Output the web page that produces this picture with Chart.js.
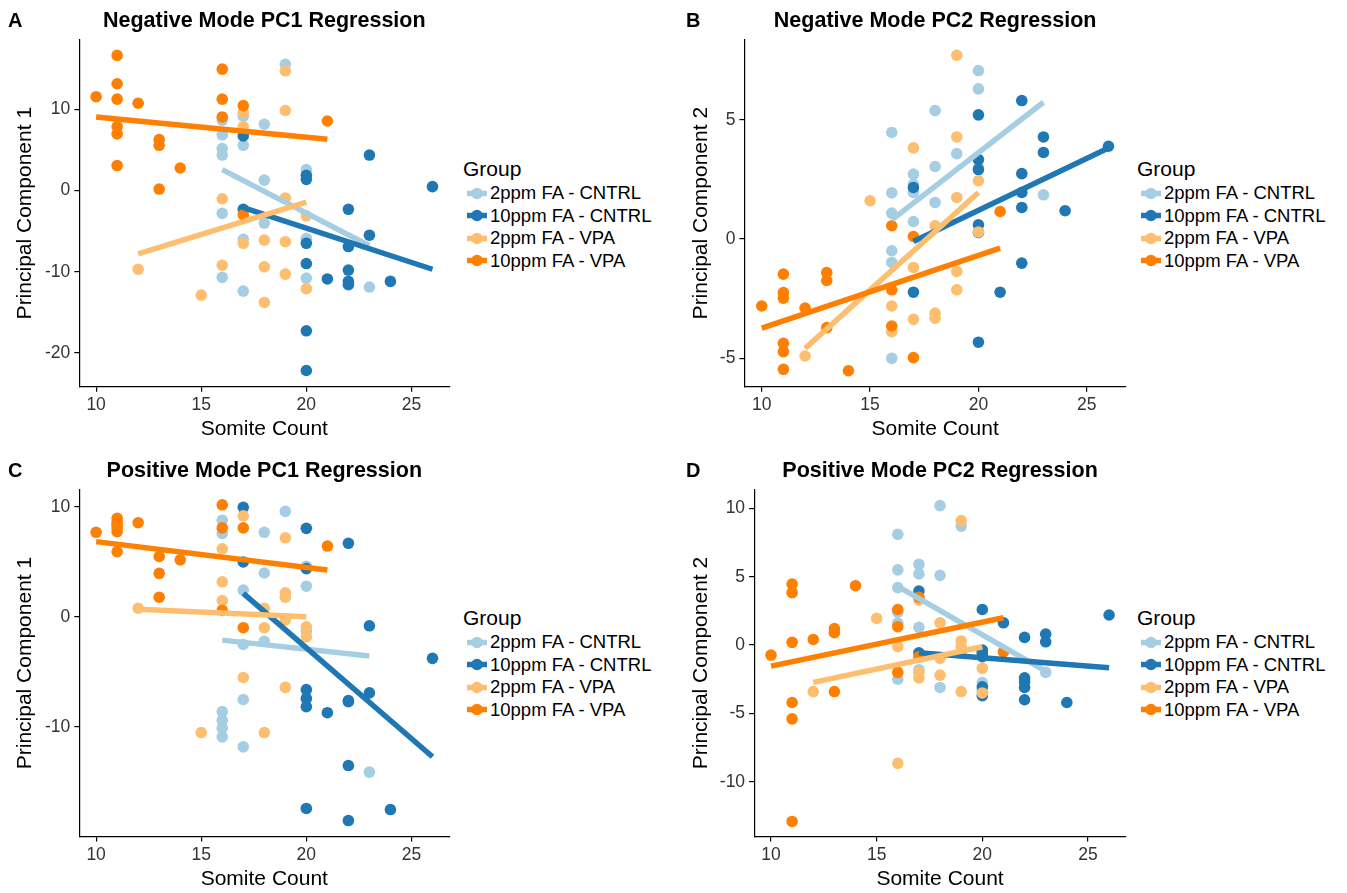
<!DOCTYPE html>
<html>
<head>
<meta charset="utf-8">
<script src="https://cdn.jsdelivr.net/npm/chart.js@4.4.1/dist/chart.umd.min.js"></script>
<style>
  html, body { margin: 0; padding: 0; background: #ffffff; }
  body { width: 1347px; height: 893px; position: relative; overflow: hidden; font-family: "Liberation Sans", Arial, sans-serif; }
  canvas { position: absolute; }
  .tag { position: absolute; font-weight: bold; font-size: 20px; line-height: 20px; color: #000; }
  .legend { position: absolute; color: #000; }
  .legend .lt { font-size: 21px; height: 27px; line-height: 27px; white-space: nowrap; }
  .legend .row { height: 22.5px; display: flex; align-items: center; white-space: nowrap; font-size: 18.5px; }
  .legend .row svg { margin-left: 3px; margin-right: 2px; flex: none; }
</style>
</head>
<body>
<script>
// ---------------- data ----------------
const groups = ['2ppm FA - CNTRL', '10ppm FA - CNTRL', '2ppm FA - VPA', '10ppm FA - VPA'];
const xTicks = [10, 15, 20, 25];

// Panel A: Negative Mode PC1
const negPC1Ticks = [-20, -10, 0, 10];
const negPC1_2cntrl = [[16,8.7],[16,6.9],[16,5.2],[16,4.4],[16,-2.8],[16,-10.7],[17,9.2],[17,5.6],[17,-6.0],[17,-12.4],[18,8.2],[18,1.3],[18,-4.0],[19,15.6],[20,2.6],[20,-5.9],[20,-10.8],[23,-11.9]];
const negPC1_10cntrl = [[17,6.75],[17,-2.3],[20,1.9],[20,1.4],[20,-6.5],[20,-9.0],[20,-17.3],[20,-22.2],[21,-10.9],[22,-2.3],[22,-6.9],[22,-9.8],[22,-11.2],[22,-11.6],[23,4.4],[23,-5.5],[24,-11.2],[26,0.5]];
const negPC1_2vpa = [[12,-9.7],[15,-12.9],[16,-1.0],[16,-9.2],[17,9.6],[17,7.9],[17,-6.5],[18,-6.1],[18,-9.4],[18,-13.8],[19,14.8],[19,9.9],[19,-0.9],[19,-6.3],[19,-10.3],[20,-3.1],[20,-12.1]];
const negPC1_10vpa = [[10,11.6],[11,16.7],[11,13.2],[11,11.3],[11,7.9],[11,7.0],[11,3.1],[12,10.8],[13,6.3],[13,5.6],[13,0.2],[14,2.8],[16,15.0],[16,11.3],[16,9.1],[17,10.5],[17,-3.0],[21,8.6]];
const negPC1_fit2cntrl = [[16,2.6],[23,-6.8]];
const negPC1_fit10cntrl = [[17,-2.1],[26,-9.7]];
const negPC1_fit2vpa = [[12,-7.8],[20,-1.4]];
const negPC1_fit10vpa = [[10,9.1],[21,6.35]];

// Panel B: Negative Mode PC2
const negPC2Ticks = [-5, 0, 5];
const negPC2_2cntrl = [[16,4.48],[16,1.94],[16,1.09],[16,-0.49],[16,-0.98],[16,-5.01],[17,2.73],[17,1.96],[17,0.74],[17,2.3],[18,5.4],[18,3.05],[18,1.54],[19,3.59],[20,7.08],[20,6.31],[20,3.0],[23,1.86]];
const negPC2_10cntrl = [[17,2.17],[17,-2.23],[20,5.22],[20,3.34],[20,2.92],[20,0.6],[20,0.28],[20,-4.33],[21,-2.23],[22,5.82],[22,2.75],[22,1.96],[22,1.33],[22,-1.01],[23,4.29],[23,3.64],[24,1.19],[26,3.9]];
const negPC2_2vpa = [[12,-4.91],[15,1.61],[16,-2.81],[16,-3.89],[17,3.83],[17,-1.19],[17,-3.37],[18,0.56],[18,-3.11],[18,-3.32],[19,7.72],[19,4.29],[19,1.75],[19,-1.36],[19,-2.13],[20,2.45],[20,0.3]];
const negPC2_10vpa = [[10,-2.81],[11,-1.47],[11,-2.25],[11,-2.48],[11,-4.38],[11,-4.73],[11,-5.47],[12,-2.9],[13,-1.41],[13,-1.74],[13,-3.72],[14,-5.53],[16,0.56],[16,-2.13],[16,-3.65],[17,0.11],[17,-4.98],[21,1.16]];
const negPC2_fit2cntrl = [[16,0.81],[23,5.75]];
const negPC2_fit10cntrl = [[17,-0.1],[26,3.83]];
const negPC2_fit2vpa = [[12,-4.59],[20,1.96]];
const negPC2_fit10vpa = [[10,-3.74],[21,-0.38]];

// Panel C: Positive Mode PC1
const posPC1Ticks = [-10, 0, 10];
const posPC1_2cntrl = [[16,8.8],[16,7.6],[16,-8.6],[16,-9.4],[16,-10.1],[16,-10.9],[17,2.45],[17,-2.5],[17,-7.5],[17,-11.8],[18,7.7],[18,4.0],[18,-2.2],[19,9.6],[20,2.8],[20,4.6],[20,-1.3],[23,-14.1]];
const posPC1_10cntrl = [[17,9.97],[17,5.0],[20,8.06],[20,4.4],[20,-6.6],[20,-7.4],[20,-8.15],[20,-17.4],[21,-8.7],[22,6.7],[22,-7.7],[22,-7.6],[22,-13.5],[22,-18.5],[23,-0.8],[23,-6.9],[24,-17.5],[26,-3.76]];
const posPC1_2vpa = [[12,0.8],[15,-10.5],[16,6.2],[16,3.2],[16,1.5],[17,9.2],[17,-5.5],[18,0.8],[18,-0.97],[18,-10.5],[19,7.2],[19,2.2],[19,1.8],[19,-0.27],[19,-6.4],[20,-0.9],[20,-1.8]];
const posPC1_10vpa = [[10,7.7],[11,8.97],[11,8.6],[11,8.36],[11,8.1],[11,7.76],[11,5.94],[12,8.57],[13,5.5],[13,3.97],[13,1.8],[14,5.2],[16,10.2],[16,8.1],[16,0.6],[17,8.1],[17,-0.97],[21,6.45]];
const posPC1_fit2cntrl = [[16,-2.1],[23,-3.55]];
const posPC1_fit10cntrl = [[17,2.15],[26,-12.7]];
const posPC1_fit2vpa = [[12,0.7],[20,0.03]];
const posPC1_fit10vpa = [[10,6.85],[21,4.27]];

// Panel D: Positive Mode PC2
const posPC2Ticks = [-10, -5, 0, 5, 10];
const posPC2_2cntrl = [[16,8.1],[16,5.5],[16,4.2],[16,2.4],[16,1.6],[16,-2.5],[17,5.9],[17,5.2],[17,1.3],[17,-1.8],[18,10.2],[18,5.1],[18,-3.1],[19,8.7],[20,-2.75],[20,-3.3],[20,-0.5],[23,-2.0]];
const posPC2_10cntrl = [[17,3.95],[17,-0.56],[20,2.6],[20,-0.37],[20,-0.6],[20,-0.85],[20,-3.05],[20,-3.7],[21,1.63],[22,0.56],[22,-2.4],[22,-2.7],[22,-3.1],[22,-4.0],[23,0.8],[23,0.24],[24,-4.2],[26,2.2]];
const posPC2_2vpa = [[12,-3.4],[15,1.95],[16,-0.12],[16,-8.65],[17,3.3],[17,-2.0],[17,-2.4],[18,1.63],[18,-0.98],[18,-2.2],[19,9.1],[19,0.3],[19,-0.12],[19,-0.6],[19,-3.4],[20,-1.7],[20,-3.5]];
const posPC2_10vpa = [[10,-0.73],[11,4.46],[11,3.83],[11,0.2],[11,-4.2],[11,-5.4],[11,-12.9],[12,0.41],[13,1.2],[13,0.9],[13,-3.4],[14,4.34],[16,2.6],[16,1.34],[16,-2.0],[17,3.5],[17,-0.85],[21,-0.5]];
const posPC2_fit2cntrl = [[16,4.3],[23,-1.9]];
const posPC2_fit10cntrl = [[17,-0.56],[26,-1.66]];
const posPC2_fit2vpa = [[12,-2.73],[20,-0.12]];
const posPC2_fit10vpa = [[10,-1.54],[21,2.0]];

// ---------------- styles / layout ----------------
const FONT = "'Liberation Sans', Arial, sans-serif";
const groupColors = ['#A6CEE3', '#1F78B4', '#FDBF6F', '#FF7F00'];

const panels = [
  { tag: 'A', title: 'Negative Mode PC1 Regression', yTitle: 'Principal Component 1', yTicks: negPC1Ticks,
    yMin: -24.2, yMax: 18.65,
    points: [negPC1_2cntrl, negPC1_10cntrl, negPC1_2vpa, negPC1_10vpa],
    fits: [negPC1_fit2cntrl, negPC1_fit10cntrl, negPC1_fit2vpa, negPC1_fit10vpa],
    left: 0, top: 0, w: 460, h: 450, yW: 79.3, yTitlePad: 12.4, padR: 10.7, padB: 8, tPadT: 8, tPadB: 5.8,
    tagX: 8, tagY: 10, legX: 463, legY: 155 },
  { tag: 'B', title: 'Negative Mode PC2 Regression', yTitle: 'Principal Component 2', yTicks: negPC2Ticks,
    yMin: -6.2, yMax: 8.38,
    points: [negPC2_2cntrl, negPC2_10cntrl, negPC2_2vpa, negPC2_10vpa],
    fits: [negPC2_fit2cntrl, negPC2_fit10cntrl, negPC2_fit2vpa, negPC2_fit10vpa],
    left: 680, top: 0, w: 455, h: 450, yW: 64.4, yTitlePad: 8.2, padR: 9.2, padB: 8, tPadT: 8, tPadB: 5.8,
    tagX: 686, tagY: 10, legX: 1137, legY: 155 },
  { tag: 'C', title: 'Positive Mode PC1 Regression', yTitle: 'Principal Component 1', yTicks: posPC1Ticks,
    yMin: -19.95, yMax: 11.58,
    points: [posPC1_2cntrl, posPC1_10cntrl, posPC1_2vpa, posPC1_10vpa],
    fits: [posPC1_fit2cntrl, posPC1_fit10cntrl, posPC1_fit2vpa, posPC1_fit10vpa],
    left: 0, top: 450, w: 460, h: 443, yW: 79.3, yTitlePad: 12.4, padR: 10.7, padB: 1.2, tPadT: 7.7, tPadB: 6.1,
    tagX: 8, tagY: 460, legX: 463, legY: 604 },
  { tag: 'D', title: 'Positive Mode PC2 Regression', yTitle: 'Principal Component 2', yTicks: posPC2Ticks,
    yMin: -14.0, yMax: 11.37,
    points: [posPC2_2cntrl, posPC2_10cntrl, posPC2_2vpa, posPC2_10vpa],
    fits: [posPC2_fit2cntrl, posPC2_fit10cntrl, posPC2_fit2vpa, posPC2_fit10vpa],
    left: 680, top: 450, w: 455, h: 443, yW: 74.1, yTitlePad: 8.2, padR: 9, padB: 1.2, tPadT: 7.7, tPadB: 6.1,
    tagX: 686, tagY: 460, legX: 1137, legY: 604 }
];

function makeLegend(p) {
  const d = document.createElement('div');
  d.className = 'legend';
  d.style.left = p.legX + 'px';
  d.style.top = p.legY + 'px';
  const t = document.createElement('div');
  t.className = 'lt';
  t.textContent = 'Group';
  d.appendChild(t);
  groups.forEach((g, i) => {
    const r = document.createElement('div');
    r.className = 'row';
    const col = groupColors[i];
    r.innerHTML = '<svg width="22" height="13" viewBox="0 0 22 13"><line x1="1" y1="6.5" x2="21" y2="6.5" stroke="' + col +
      '" stroke-width="5.5"/><circle cx="11" cy="6.5" r="5.8" fill="' + col + '"/></svg><span></span>';
    r.querySelector('span').textContent = g;
    d.appendChild(r);
  });
  document.body.appendChild(d);
}

function makeTag(p) {
  const d = document.createElement('div');
  d.className = 'tag';
  d.style.left = p.tagX + 'px';
  d.style.top = p.tagY + 'px';
  d.textContent = p.tag;
  document.body.appendChild(d);
}

function makePanel(p) {
  const c = document.createElement('canvas');
  c.width = p.w; c.height = p.h;
  c.style.left = p.left + 'px'; c.style.top = p.top + 'px';
  c.style.width = p.w + 'px'; c.style.height = p.h + 'px';
  document.body.appendChild(c);

  const datasets = [];
  // first datasets are drawn last (on top): fitted lines above points
  for (let g = 3; g >= 0; g--) {
    datasets.push({
      label: groups[g] + ' (fit)',
      data: p.fits[g].map(([x, y]) => ({ x, y })),
      showLine: true, borderColor: groupColors[g], backgroundColor: groupColors[g],
      borderWidth: 5.5, borderCapStyle: 'butt', pointRadius: 0, pointHoverRadius: 0, fill: false, tension: 0
    });
  }
  for (let g = 3; g >= 0; g--) {
    datasets.push({
      label: groups[g],
      data: p.points[g].map(([x, y]) => ({ x, y })),
      showLine: false, backgroundColor: groupColors[g], borderColor: groupColors[g],
      pointBackgroundColor: groupColors[g], pointBorderWidth: 0, borderWidth: 0,
      pointRadius: 5.8, pointHoverRadius: 5.8
    });
  }

  const axisGrid = { display: true, drawOnChartArea: false, drawTicks: true, tickLength: 5, color: '#000', lineWidth: 1.2 };
  const axisBorder = { display: true, color: '#000', width: 1.2 };

  new Chart(c, {
    type: 'scatter',
    data: { datasets },
    options: {
      responsive: false, animation: false, events: [],
      layout: { padding: { left: 0, right: p.padR, top: 0, bottom: p.padB } },
      scales: {
        x: {
          type: 'linear', min: 9.2, max: 26.8,
          afterBuildTicks: s => { s.ticks = xTicks.map(v => ({ value: v })); },
          afterFit: s => { s.height = 55.3; },
          grid: axisGrid, border: axisBorder,
          ticks: { color: '#333', font: { family: FONT, size: 17.5 }, padding: 3, maxRotation: 0, autoSkip: false },
          title: { display: true, text: 'Somite Count', color: '#000', font: { family: FONT, size: 21, lineHeight: 1.2 }, padding: { top: 0, bottom: 0 } }
        },
        y: {
          type: 'linear', min: p.yMin, max: p.yMax,
          afterBuildTicks: s => { s.ticks = p.yTicks.map(v => ({ value: v })); },
          afterFit: s => { s.width = p.yW; },
          grid: axisGrid, border: axisBorder,
          ticks: { color: '#333', font: { family: FONT, size: 17.5 }, padding: 4, autoSkip: false },
          title: { display: true, text: p.yTitle, color: '#000', font: { family: FONT, size: 21, lineHeight: 1.2 }, padding: { top: p.yTitlePad, bottom: 0 } }
        }
      },
      plugins: {
        legend: { display: false },
        tooltip: { enabled: false },
        title: {
          display: true, text: p.title, color: '#000', fullSize: false,
          font: { family: FONT, size: 21.5, weight: 'bold', lineHeight: 1.2 },
          padding: { top: p.tPadT, bottom: p.tPadB }
        }
      }
    }
  });
}

panels.forEach(p => { makePanel(p); makeTag(p); makeLegend(p); });
</script>
</body>
</html>
